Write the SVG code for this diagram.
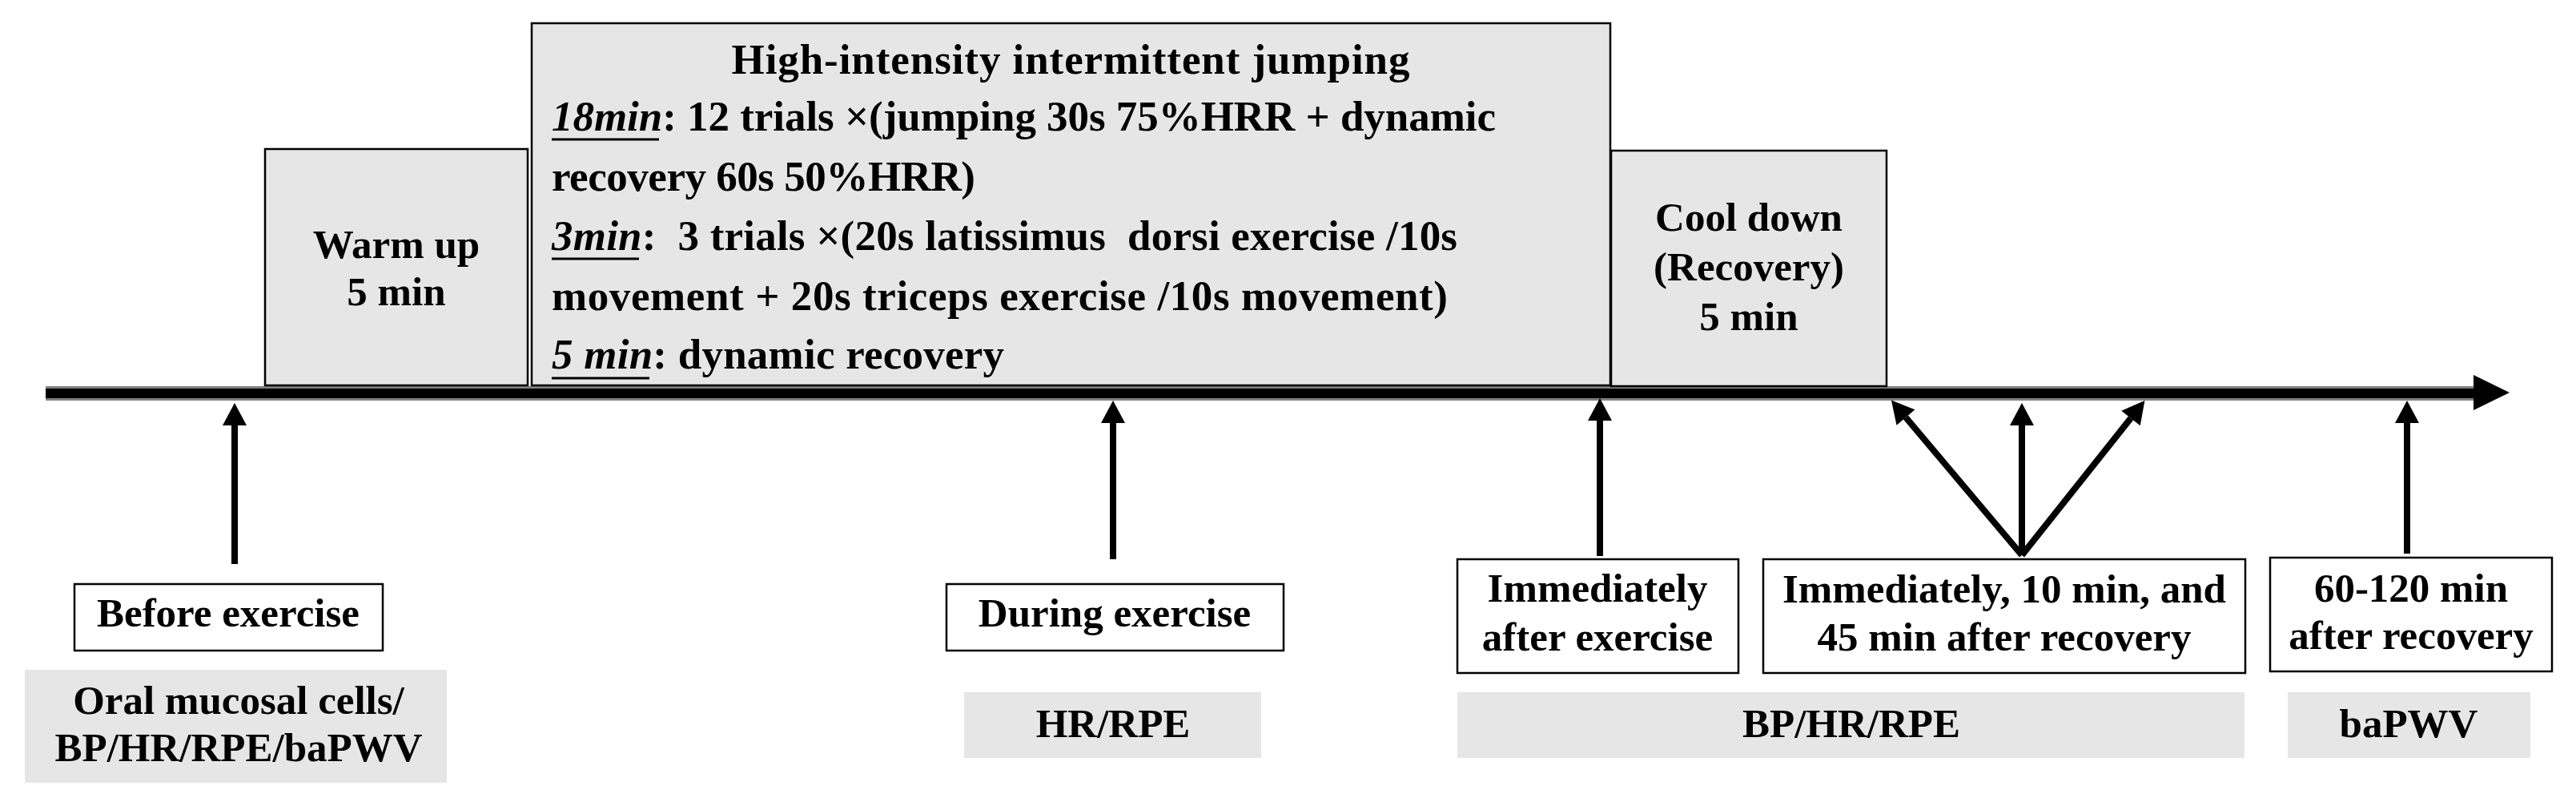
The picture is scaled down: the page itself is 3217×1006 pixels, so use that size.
<svg xmlns="http://www.w3.org/2000/svg" width="3217" height="1006" viewBox="0 0 3217 1006">
<style>
.t{font-family:"Liberation Serif","Times New Roman",serif;font-weight:bold;font-size:51px;fill:#000;white-space:pre}
.m{font-size:53px}
.c{text-anchor:middle}
.phase{fill:#e6e6e6;stroke:#000;stroke-width:2.5}
.lab{fill:#fff;stroke:#000;stroke-width:2.5}
.meas{fill:#e6e6e6;stroke:none}
.arr{stroke:#000;stroke-width:8;fill:none;marker-end:url(#ah)}
.i{font-style:italic}
.ul{stroke:#000;stroke-width:3}
</style>
<defs>
<marker id="ah" markerUnits="userSpaceOnUse" markerWidth="30" markerHeight="32" refX="0" refY="15" orient="auto" overflow="visible">
<path d="M0,0 L28,15 L0,30 Z" fill="#000"/>
</marker>
</defs>
<g id="timeline">
<rect x="57" y="482" width="3034" height="18" fill="#808080"/>
<rect x="57" y="485" width="3034" height="12" fill="#000"/>
<polygon points="3089,468 3134,490 3089,512" fill="#000"/>
</g>
<g id="warmup">
<rect class="phase" x="331" y="186" width="328" height="295"/>
<text class="t c" x="495" y="322">Warm up</text>
<text class="t c" x="495" y="381">5 min</text>
</g>
<g id="hiij">
<rect class="phase" x="664" y="29" width="1347" height="452"/>
<text class="t m c" x="1337" y="92" textLength="847" lengthAdjust="spacing">High-intensity intermittent jumping</text>
<text class="t m" x="689" y="163" textLength="1179" lengthAdjust="spacing"><tspan class="i">18min</tspan>: 12 trials ×(jumping 30s 75%HRR + dynamic</text>
<text class="t m" x="689" y="238" textLength="529" lengthAdjust="spacing">recovery 60s 50%HRR)</text>
<text class="t m" x="689" y="312" textLength="1131" lengthAdjust="spacing"><tspan class="i">3min</tspan>:  3 trials ×(20s latissimus  dorsi exercise /10s</text>
<text class="t m" x="689" y="387" textLength="1119" lengthAdjust="spacing">movement + 20s triceps exercise /10s movement)</text>
<text class="t m" x="689" y="460" textLength="565" lengthAdjust="spacing"><tspan class="i">5 min</tspan>: dynamic recovery</text>
<line class="ul" x1="689" y1="174" x2="823" y2="174"/>
<line class="ul" x1="689" y1="323" x2="798" y2="323"/>
<line class="ul" x1="689" y1="472" x2="811" y2="472"/>
</g>
<g id="cooldown">
<rect class="phase" x="2012" y="188" width="344" height="294"/>
<text class="t c" x="2184" y="288">Cool down</text>
<text class="t c" x="2184" y="350">(Recovery)</text>
<text class="t c" x="2184" y="412">5 min</text>
</g>
<g id="connectors">
<line class="arr" x1="293" y1="704" x2="293" y2="531"/>
<line class="arr" x1="1390" y1="698" x2="1390" y2="528"/>
<line class="arr" x1="1998" y1="694" x2="1998" y2="525"/>
<line class="arr" x1="2525" y1="693" x2="2380" y2="521"/>
<line class="arr" x1="2525" y1="693" x2="2525" y2="531"/>
<line class="arr" x1="2525" y1="693" x2="2661" y2="522"/>
<line class="arr" x1="3006" y1="691" x2="3006" y2="528"/>
</g>
<g id="before">
<rect class="lab" x="93" y="729" width="385" height="83"/>
<text class="t c" x="285" y="782">Before exercise</text>
</g>
<g id="during">
<rect class="lab" x="1182" y="729" width="421" height="83"/>
<text class="t c" x="1392" y="782">During exercise</text>
</g>
<g id="after-exercise">
<rect class="lab" x="1820" y="698" width="351" height="142"/>
<text class="t c" x="1995" y="751">Immediately</text>
<text class="t c" x="1995" y="812">after exercise</text>
</g>
<g id="after-recovery">
<rect class="lab" x="2202" y="698" width="602" height="142"/>
<text class="t c" x="2503" y="752">Immediately, 10 min, and</text>
<text class="t c" x="2503" y="812">45 min after recovery</text>
</g>
<g id="late">
<rect class="lab" x="2835" y="696" width="352" height="142"/>
<text class="t c" x="3011" y="751">60-120 min</text>
<text class="t c" x="3011" y="810">after recovery</text>
</g>
<g id="m-before">
<rect class="meas" x="31" y="836" width="527" height="141"/>
<text class="t c" x="298" y="891">Oral mucosal cells/</text>
<text class="t c" x="298" y="950">BP/HR/RPE/baPWV</text>
</g>
<g id="m-during">
<rect class="meas" x="1204" y="864" width="371" height="82"/>
<text class="t c" x="1390" y="920">HR/RPE</text>
</g>
<g id="m-after">
<rect class="meas" x="1820" y="864" width="983" height="82"/>
<text class="t c" x="2312" y="920">BP/HR/RPE</text>
</g>
<g id="m-late">
<rect class="meas" x="2857" y="864" width="303" height="82"/>
<text class="t c" x="3008" y="920">baPWV</text>
</g>
</svg>
